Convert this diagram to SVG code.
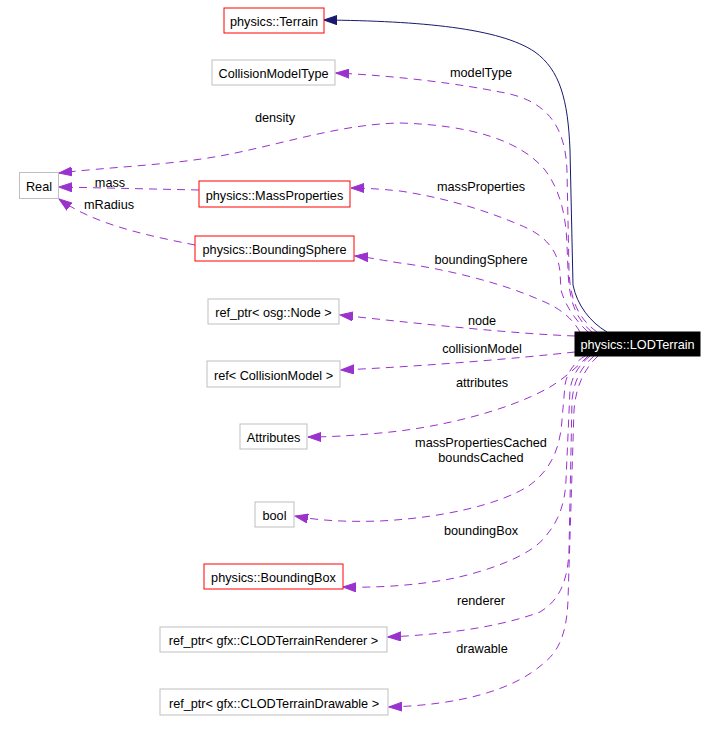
<svg xmlns="http://www.w3.org/2000/svg" width="718" height="732" viewBox="0 0 718 732">
<style>
text{font-family:"Liberation Sans",Arial,sans-serif;font-size:12.7px;fill:#000}
.n text{text-anchor:middle}
.g rect{fill:#fff;stroke:#bfbfbf;stroke-width:1}
.r rect{fill:#fff;stroke:#ff0000;stroke-width:1}
.e{fill:none;stroke:#9a32cd;stroke-width:1;stroke-dasharray:8,6;marker-end:url(#pa)}
.i{fill:none;stroke:#191970;stroke-width:1;marker-end:url(#ba)}
.lbl{text-anchor:middle}
</style>
<defs>
<marker id="pa" markerUnits="userSpaceOnUse" markerWidth="14" markerHeight="10" refX="13" refY="5" orient="auto"><path d="M0,0.5 L13,5 L0,9.5 z" fill="#9a32cd" stroke="#9a32cd"/></marker>
<marker id="ba" markerUnits="userSpaceOnUse" markerWidth="14" markerHeight="10" refX="13" refY="5" orient="auto"><path d="M0,0.5 L13,5 L0,9.5 z" fill="#191970" stroke="#191970"/></marker>
</defs>
<rect width="718" height="732" fill="#fff"/>
<g id="edges">
<path class="i" d="M607,332 C590,322 577,305 573,285 L570,150 C568,100 560,70 535,52 C500,28 420,21 324,20"/>
<path class="e" d="M597,332 C578,318 570,300 569,270 L567,172 C566,130 550,100 500,92 C460,84 400,76 336,73"/>
<path class="e" d="M592,332 C575,318 569,300 568,270 L567,245 C566,215 560,190 545,170 C520,140 470,125 400,123 C340,124 280,145 220,156 C170,165 110,167 59,173"/>
<path class="e" d="M199,190 L59,187"/>
<path class="e" d="M195,245 C150,236 95,225 59,199"/>
<path class="e" d="M588,332 C575,320 565,305 561,290 L560,272 C558,250 545,235 520,225 C480,208 440,197 400,191 C380,189 365,188 351,188"/>
<path class="e" d="M580,332 C572,318 560,308 540,300 C500,282 440,268 400,263 C380,260 367,257 355,256"/>
<path class="e" d="M575,336 C520,334 430,325 340,315"/>
<path class="e" d="M575,352 C520,358 430,366 341,370"/>
<path class="e" d="M588,356 C578,366 565,378 550,387 C510,410 440,428 380,433 C350,436 325,437 308,437"/>
<path class="e" d="M585,356 C575,362 567,372 565,385 L562,420 C560,450 550,470 530,485 C500,505 440,518 380,521 C350,522 320,521 295,516"/>
<path class="e" d="M590,356 C580,364 572,375 570,390 L566,480 C565,505 558,522 545,537 C530,556 490,570 455,578 C420,585 380,588 343,587"/>
<path class="e" d="M594,356 C582,366 574,380 572,400 L569,550 C568,580 560,600 540,612 C505,625 455,634 388,637"/>
<path class="e" d="M598,356 C585,368 576,385 574,410 L568,600 C567,630 560,650 545,662 C515,690 460,705 389,707"/>
<text class="lbl" x="481" y="77">modelType</text>
<text class="lbl" x="275" y="122">density</text>
<text class="lbl" x="110" y="187">mass</text>
<text class="lbl" x="109" y="209">mRadius</text>
<text class="lbl" x="481" y="190.5">massProperties</text>
<text class="lbl" x="481" y="264">boundingSphere</text>
<text class="lbl" x="482" y="325">node</text>
<text class="lbl" x="482" y="353">collisionModel</text>
<text class="lbl" x="482" y="387">attributes</text>
<text class="lbl" x="481" y="447">massPropertiesCached</text>
<text class="lbl" x="481" y="462">boundsCached</text>
<text class="lbl" x="481" y="534.5">boundingBox</text>
<text class="lbl" x="481" y="605">renderer</text>
<text class="lbl" x="482" y="653">drawable</text>
</g>
<g id="n_lodterrain" class="n"><rect x="575" y="332" width="125" height="24" fill="#000" stroke="#000"/><text x="637.5" y="349" style="fill:#fff">physics::LODTerrain</text></g>
<g id="n_terrain" class="n r"><rect x="224" y="8" width="100" height="25"/><text x="274" y="26">physics::Terrain</text></g>
<g id="n_cmt" class="n g"><rect x="212" y="60" width="123" height="25"/><text x="273.5" y="78">CollisionModelType</text></g>
<g id="n_real" class="n g"><rect x="19.5" y="172.5" width="39" height="26"/><text x="39" y="191">Real</text></g>
<g id="n_massprops" class="n r"><rect x="199" y="181" width="151" height="26"/><text x="274.5" y="199.5">physics::MassProperties</text></g>
<g id="n_bsphere" class="n r"><rect x="195" y="236" width="159" height="25"/><text x="274.5" y="254">physics::BoundingSphere</text></g>
<g id="n_node" class="n g"><rect x="208" y="299" width="131" height="25"/><text x="273.5" y="317">ref_ptr&lt; osg::Node &gt;</text></g>
<g id="n_cm" class="n g"><rect x="207" y="361" width="133" height="26"/><text x="273.5" y="379.5">ref&lt; CollisionModel &gt;</text></g>
<g id="n_attr" class="n g"><rect x="240" y="424" width="67" height="25"/><text x="273.5" y="442">Attributes</text></g>
<g id="n_bool" class="n g"><rect x="255" y="502" width="39" height="25"/><text x="274.5" y="520">bool</text></g>
<g id="n_bbox" class="n r"><rect x="204" y="564" width="139" height="25"/><text x="273.5" y="582">physics::BoundingBox</text></g>
<g id="n_renderer" class="n g"><rect x="160" y="627" width="227" height="25"/><text x="273.5" y="645">ref_ptr&lt; gfx::CLODTerrainRenderer &gt;</text></g>
<g id="n_drawable" class="n g"><rect x="160" y="689" width="228" height="26"/><text x="274" y="707.5">ref_ptr&lt; gfx::CLODTerrainDrawable &gt;</text></g>
</svg>
